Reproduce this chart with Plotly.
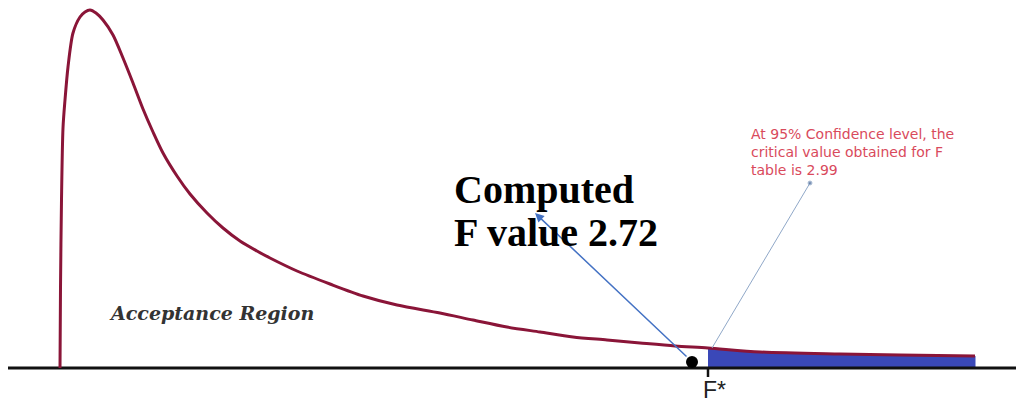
import plotly.graph_objects as go

# F-distribution sketch, schematic coordinates (x: horizontal position, h: height above baseline)
curve_x = [60, 60.5, 61.5, 63, 65, 68, 73, 80, 85, 90, 96, 103, 113, 123, 133, 143, 153, 163, 177, 190,
           207, 223, 240, 257, 270, 297, 330, 363, 397, 440, 473, 507, 540, 573, 607, 640, 675, 708,
           760, 840, 900, 975]
curve_h = [0, 80, 168, 240, 268, 301, 335, 351, 356, 358, 355, 348, 333, 310, 285, 259, 236, 215, 192, 174,
           155, 140, 127, 117, 110, 97, 84, 72, 63, 55, 48, 41, 36, 31, 28, 25, 22, 20,
           16, 14, 13, 12]

f_crit_pos = 708      # F* (critical value 2.99)
f_comp_pos = 692      # computed F value 2.72
axis_x = [0, 1018]
axis_h = [0, 0]

crit_label = ["At 95% Confidence level, the", "critical value obtained for F", "table is 2.99"]
comp_label = ["Computed", "F value 2.72"]
region_label = "Acceptance Region"

fig = go.Figure()

# rejection region fill (tail of curve beyond F*)
tail = [(x, h) for x, h in zip(curve_x, curve_h) if x >= f_crit_pos]
tx = [p[0] for p in tail]
th = [p[1] for p in tail]
fig.add_trace(go.Scatter(x=tx + tx[::-1], y=th + [0] * len(tx), fill="toself",
                         fillcolor="#3a48b8", line=dict(color="#3a48b8", width=1),
                         mode="lines", hoverinfo="skip"))

# baseline axis
fig.add_trace(go.Scatter(x=axis_x, y=axis_h, mode="lines",
                         line=dict(color="#111111", width=3), hoverinfo="skip"))

# tick at F*
fig.add_trace(go.Scatter(x=[f_crit_pos, f_crit_pos], y=[0, -9], mode="lines",
                         line=dict(color="#111111", width=2.5), hoverinfo="skip"))

# density curve
fig.add_trace(go.Scatter(x=curve_x, y=curve_h, mode="lines",
                         line=dict(color="#8a1538", width=3, shape="spline", smoothing=0.8),
                         hoverinfo="skip"))

# pointer line from F* to note
fig.add_trace(go.Scatter(x=[f_crit_pos + 4, 810], y=[20, 185], mode="lines+markers",
                         line=dict(color="#90a8c8", width=1),
                         marker=dict(size=[0, 4], color="#4a6a9a"), hoverinfo="skip"))

# computed value dot
fig.add_trace(go.Scatter(x=[f_comp_pos], y=[6], mode="markers",
                         marker=dict(size=12, color="#000000"), hoverinfo="skip"))

# arrow to computed label
fig.add_annotation(x=535, y=155, ax=688, ay=10, xref="x", yref="y", axref="x", ayref="y",
                   text="", showarrow=True, arrowhead=2, arrowsize=1.2, arrowwidth=1.5,
                   arrowcolor="#4472c4")

for txt, yy in zip(comp_label, [179, 136]):
    fig.add_annotation(x=452, y=yy, xref="x", yref="y", text=txt, showarrow=False,
                       xanchor="left", yanchor="middle",
                       font=dict(family="Liberation Serif", size=40, color="#000000", weight="bold"))

fig.add_annotation(x=749, y=216, xref="x", yref="y", text="<br>".join(crit_label), showarrow=False,
                   xanchor="left", yanchor="middle", align="left",
                   font=dict(family="DejaVu Sans", size=14, color="#d94a5c"))

fig.add_annotation(x=211, y=55, xref="x", yref="y", text="<b><i>" + region_label + "</i></b>",
                   showarrow=False, xanchor="center", yanchor="middle",
                   font=dict(family="DejaVu Serif", size=19, color="#333333"))

fig.add_annotation(x=714, y=-22, xref="x", yref="y", text="F*", showarrow=False,
                   xanchor="center", yanchor="middle",
                   font=dict(family="Liberation Sans", size=23, color="#222222"))

# the page body has an 8px margin, so the figure covers page pixels 8..1024 x 8..407
fig.update_layout(width=1016, height=399, margin=dict(l=0, r=0, t=0, b=0),
                  paper_bgcolor="white", plot_bgcolor="white", showlegend=False,
                  xaxis=dict(range=[8, 1024], visible=False, fixedrange=True),
                  yaxis=dict(range=[-39, 360], visible=False, fixedrange=True))

fig.write_html("out.html", config={"displayModeBar": False})
